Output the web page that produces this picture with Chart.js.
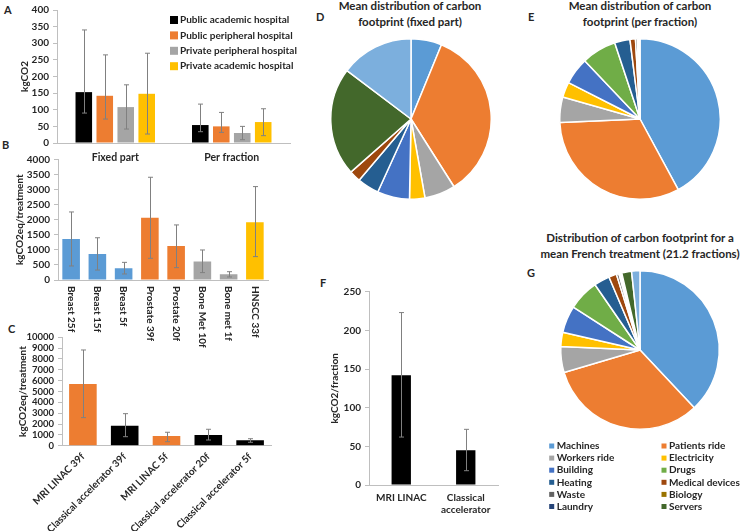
<!DOCTYPE html>
<html>
<head>
<meta charset="utf-8">
<title>Carbon footprint of radiotherapy</title>
<script src="https://cdn.jsdelivr.net/npm/chart.js@4.4.1/dist/chart.umd.min.js"></script>
<style>
  body { margin: 0; background: #fff; }
  #page { position: relative; width: 741px; height: 531px; overflow: hidden; font-family: Lato, sans-serif; color: #262626; }
  canvas { position: absolute; }
  .letter { position: absolute; font-weight: bold; font-size: 11px; line-height: 12px; }
  .ptitle { position: absolute; width: 240px; text-align: center; font-weight: bold; font-size: 11.5px; line-height: 15.5px; }
</style>
</head>
<body>
<div id="page">
  <div class="letter" style="left:4px;top:4px">A</div>
  <div class="letter" style="left:2px;top:139px">B</div>
  <div class="letter" style="left:8px;top:323px">C</div>
  <div class="letter" style="left:316px;top:11px">D</div>
  <div class="letter" style="left:528px;top:11px">E</div>
  <div class="letter" style="left:320px;top:277px">F</div>
  <div class="letter" style="left:527px;top:267px">G</div>

  <div class="ptitle" style="left:290px;top:-2px">Mean distribution of carbon<br>footprint (fixed part)</div>
  <div class="ptitle" style="left:520px;top:-2px">Mean distribution of carbon<br>footprint (per fraction)</div>
  <div class="ptitle" style="left:520px;top:230px">Distribution of carbon footprint for a<br>mean French treatment (21.2 fractions)</div>

  <canvas id="chartA" width="300" height="165" style="left:0;top:0"></canvas>
  <canvas id="chartB" width="280" height="230" style="left:0;top:140px"></canvas>
  <canvas id="chartD" width="162" height="162" style="left:330px;top:38px"></canvas>
  <canvas id="chartE" width="162" height="162" style="left:559px;top:38px"></canvas>
  <canvas id="chartF" width="210" height="261" style="left:300px;top:270px"></canvas>
  <canvas id="chartG" width="201" height="269" style="left:540px;top:262px"></canvas>
  <canvas id="chartC" width="285" height="221" style="left:0;top:310px;z-index:2"></canvas>
</div>

<script>
// ---- A: per hospital type ----
const hospitals = ['Public academic hospital', 'Public peripheral hospital', 'Private peripheral hospital', 'Private academic hospital'];
const partLabels = ['Fixed part', 'Per fraction'];
const publicAcademic = [153, 54];
const publicPeripheral = [142, 50];
const privatePeripheral = [108, 30];
const privateAcademic = [148, 63];
const publicAcademicLow = [90, 34];
const publicAcademicHigh = [340, 117];
const publicPeripheralLow = [72, 32];
const publicPeripheralHigh = [265, 92];
const privatePeripheralLow = [42, 10];
const privatePeripheralHigh = [175, 50];
const privateAcademicLow = [27, 22];
const privateAcademicHigh = [270, 103];

// ---- B: per treatment ----
const treatments = ['Breast 25f', 'Breast 15f', 'Breast 5f', 'Prostate 39f', 'Prostate 20f', 'Bone Met 10f', 'Bone met 1f', 'HNSCC 33f'];
const treatmentValues = [1360, 865, 390, 2065, 1125, 610, 190, 1915];
const treatmentLow = [465, 330, 200, 720, 410, 245, 100, 775];
const treatmentHigh = [2255, 1400, 585, 3405, 1825, 995, 275, 3095];

// ---- C: MRI LINAC vs classical ----
const machineTreatments = ['MRI LINAC 39f', 'Classical accelerator 39f', 'MRI LINAC 5f', 'Classical accelerator 20f', 'Classical accelerator 5f'];
const machineValues = [5700, 1850, 900, 990, 500];
const machineLow = [2590, 830, 370, 525, 315];
const machineHigh = [8830, 2955, 1240, 1515, 645];

// ---- F: per fraction ----
const fractionLabels = ['MRI LINAC', ['Classical', 'accelerator']];
const fractionValues = [142, 45];
const fractionLow = [62, 18.5];
const fractionHigh = [223, 72];

// ---- D, E, G: distribution by source (%) ----
const sources = ['Machines', 'Patients ride', 'Workers ride', 'Electricity', 'Building', 'Drugs', 'Heating',
                 'Medical devices', 'Waste', 'Biology', 'Laundry', 'Servers', 'Other'];
const fixedShare = [6.2, 34.8, 6.2, 3.1, 6.5, 0, 4.4, 2.3, 0, 0, 0, 21.8, 14.7];
const fractionShare = [42.1, 32.2, 5.1, 3.1, 5.4, 7.0, 3.1, 1.1, 0.4, 0.1, 0.1, 0.1, 0.2];
const treatmentShare = [38.0, 32.4, 5.3, 2.9, 5.5, 6.3, 3.2, 1.6, 0.5, 0.3, 0.3, 2.0, 1.7];

// colours
const sourceColors = ['#5B9BD5', '#ED7D31', '#A5A5A5', '#FFC000', '#4472C4', '#70AD47', '#255E91',
                      '#9E480E', '#636363', '#997300', '#264478', '#43682B', '#7CAFDD'];
const hospitalColors = ['#000000', '#ED7D31', '#A5A5A5', '#FFC000'];
const treatmentColors = ['#5B9BD5', '#5B9BD5', '#5B9BD5', '#ED7D31', '#ED7D31', '#A5A5A5', '#A5A5A5', '#FFC000'];
const machineColors = ['#ED7D31', '#000000', '#ED7D31', '#000000', '#000000'];
const axisGray = '#BFBFBF';
const textColor = '#262626';

Chart.defaults.font.family = 'Lato';
Chart.defaults.font.weight = 'bold';
Chart.defaults.font.size = 10;
Chart.defaults.color = textColor;

// error bars drawn from errLow / errHigh arrays stored on the dataset
const errorBars = {
  id: 'errorBars',
  afterDatasetsDraw(chart) {
    const ctx = chart.ctx;
    const y = chart.scales.y;
    ctx.save();
    ctx.strokeStyle = '#808080';
    ctx.lineWidth = 1;
    chart.data.datasets.forEach((ds, i) => {
      if (!ds.errLow) return;
      chart.getDatasetMeta(i).data.forEach((bar, j) => {
        const x = Math.round(bar.x) + 0.5;
        const lo = y.getPixelForValue(ds.errLow[j]);
        const hi = y.getPixelForValue(ds.errHigh[j]);
        ctx.beginPath();
        ctx.moveTo(x, lo); ctx.lineTo(x, hi);
        ctx.moveTo(x - 2.5, lo); ctx.lineTo(x + 2.5, lo);
        ctx.moveTo(x - 2.5, hi); ctx.lineTo(x + 2.5, hi);
        ctx.stroke();
      });
    });
    ctx.restore();
  }
};

// labels written top-to-bottom under the x axis (panel B)
const downLabels = {
  id: 'downLabels',
  afterDraw(chart) {
    const s = chart.scales.x;
    const ctx = chart.ctx;
    ctx.save();
    ctx.font = 'bold 10px Lato';
    ctx.fillStyle = textColor;
    ctx.textAlign = 'left';
    ctx.textBaseline = 'middle';
    chart.data.labels.forEach((lab, i) => {
      ctx.save();
      ctx.translate(s.getPixelForTick(i), s.top + 6);
      ctx.rotate(Math.PI / 2);
      ctx.fillText(lab, 0, 0);
      ctx.restore();
    });
    ctx.restore();
  }
};

// small square legend laid out in a grid
const boxLegend = {
  id: 'boxLegend',
  afterDraw(chart, args, o) {
    const ctx = chart.ctx;
    let items;
    if (chart.config.type === 'pie') {
      const ds = chart.data.datasets[0];
      items = chart.data.labels.slice(0, o.count).map((t, i) => ({ text: t, color: ds.backgroundColor[i] }));
    } else {
      items = chart.data.datasets.map(d => ({ text: d.label, color: d.backgroundColor }));
    }
    ctx.save();
    ctx.font = o.font;
    ctx.textAlign = 'left';
    ctx.textBaseline = 'middle';
    items.forEach((it, i) => {
      const x = o.x + (i % o.cols) * o.colW;
      const y = o.y + Math.floor(i / o.cols) * o.rowH;
      ctx.fillStyle = it.color;
      ctx.fillRect(x - o.box / 2, y - o.box / 2, o.box, o.box);
      ctx.fillStyle = textColor;
      ctx.fillText(it.text, x + o.gap, y);
    });
    ctx.restore();
  }
};

function yAxis(max, step, title, width, size) {
  return {
    min: 0, max: max,
    bounds: 'data',
    ticks: { padding: 4, color: textColor, autoSkip: false, z: 1,
             font: { size: size || 10 }, callback: v => String(v) },
    // every step from 0 to max gets a tick, as in the original
    afterBuildTicks: s => {
      s.ticks = [];
      for (let v = 0; v <= max; v += step) s.ticks.push({ value: v });
    },
    grid: { drawOnChartArea: false, tickLength: 4, color: axisGray },
    border: { color: axisGray },
    title: { display: true, text: title, color: textColor, padding: 0 },
    afterFit: s => { s.width = width; }
  };
}

function xAxis(height, pad, extra) {
  return Object.assign({
    grid: { drawOnChartArea: false, drawTicks: false, color: axisGray },
    border: { color: axisGray },
    ticks: { padding: pad, color: textColor, autoSkip: false, maxRotation: 0 },
    afterFit: s => { s.height = height; }
  }, extra || {});
}

const noPlugins = { legend: { display: false }, tooltip: { enabled: false } };

// A
const aLows = [publicAcademicLow, publicPeripheralLow, privatePeripheralLow, privateAcademicLow];
const aHighs = [publicAcademicHigh, publicPeripheralHigh, privatePeripheralHigh, privateAcademicHigh];
new Chart(document.getElementById('chartA'), {
  type: 'bar',
  data: {
    labels: partLabels,
    datasets: [publicAcademic, publicPeripheral, privatePeripheral, privateAcademic].map((vals, i) => ({
      label: hospitals[i],
      data: vals,
      errLow: aLows[i],
      errHigh: aHighs[i],
      backgroundColor: hospitalColors[i],
      categoryPercentage: 0.72,
      barPercentage: 0.79
    }))
  },
  options: {
    responsive: false, animation: false,
    layout: { padding: { left: 19, right: 10, top: 10, bottom: 0 } },
    scales: {
      x: xAxis(22, 8, { ticks: { padding: 8, color: textColor, font: { size: 10.5 } } }),
      y: yAxis(400, 50, 'kgCO2', 38)
    },
    plugins: Object.assign({
      boxLegend: { x: 174, y: 20, cols: 1, colW: 0, rowH: 15.4, box: 8, gap: 6, font: 'bold 10px Lato' }
    }, noPlugins)
  },
  plugins: [errorBars, boxLegend]
});

// B
new Chart(document.getElementById('chartB'), {
  type: 'bar',
  data: {
    labels: treatments,
    datasets: [{
      data: treatmentValues, errLow: treatmentLow, errHigh: treatmentHigh,
      backgroundColor: treatmentColors, categoryPercentage: 1, barPercentage: 0.67
    }]
  },
  options: {
    responsive: false, animation: false,
    layout: { padding: { left: 14, right: 12, top: 19.3, bottom: 0 } },
    scales: {
      x: xAxis(90, 4, { ticks: { display: false } }),
      y: yAxis(4000, 500, 'kgCO2eq/treatment', 44)
    },
    plugins: noPlugins
  },
  plugins: [errorBars, downLabels]
});

// C
new Chart(document.getElementById('chartC'), {
  type: 'bar',
  data: {
    labels: machineTreatments,
    datasets: [{
      data: machineValues, errLow: machineLow, errHigh: machineHigh,
      backgroundColor: machineColors, categoryPercentage: 1, barPercentage: 0.66
    }]
  },
  options: {
    responsive: false, animation: false,
    layout: { padding: { left: 16.5, right: 14, top: 27.3, bottom: 0 } },
    scales: {
      x: xAxis(85.3, 5, { ticks: { padding: 5, color: textColor, autoSkip: false, minRotation: 45, maxRotation: 45 } }),
      y: yAxis(10000, 1000, 'kgCO2eq/treatment', 45.5, 9.5)
    },
    plugins: noPlugins
  },
  plugins: [errorBars]
});

// F
new Chart(document.getElementById('chartF'), {
  type: 'bar',
  data: {
    labels: fractionLabels,
    datasets: [{
      data: fractionValues, errLow: fractionLow, errHigh: fractionHigh,
      backgroundColor: '#000000', categoryPercentage: 1, barPercentage: 0.3
    }]
  },
  options: {
    responsive: false, animation: false,
    layout: { padding: { left: 29, right: 12, top: 21.7, bottom: 0 } },
    scales: {
      x: xAxis(46, 7),
      y: yAxis(250, 50, 'kgCO2/fraction', 40)
    },
    plugins: noPlugins
  },
  plugins: [errorBars]
});

// pies
function pie(id, values, padding, extraPlugins, legendOpts) {
  return new Chart(document.getElementById(id), {
    type: 'pie',
    data: {
      labels: sources,
      datasets: [{ data: values, backgroundColor: sourceColors, borderColor: '#ffffff', borderWidth: 1.5 }]
    },
    options: {
      responsive: false, animation: false,
      layout: { padding: padding },
      plugins: Object.assign({ boxLegend: legendOpts || {} }, noPlugins)
    },
    plugins: extraPlugins
  });
}

pie('chartD', fixedShare, 0, []);
pie('chartE', fractionShare, 0, []);
pie('chartG', treatmentShare, { left: 20, right: 21, top: 8, bottom: 101 }, [boxLegend],
    { x: 11.7, y: 184, cols: 2, colW: 112.3, rowH: 12.1, box: 5, gap: 5, font: 'bold 10px Lato', count: 12 });
</script>
</body>
</html>
